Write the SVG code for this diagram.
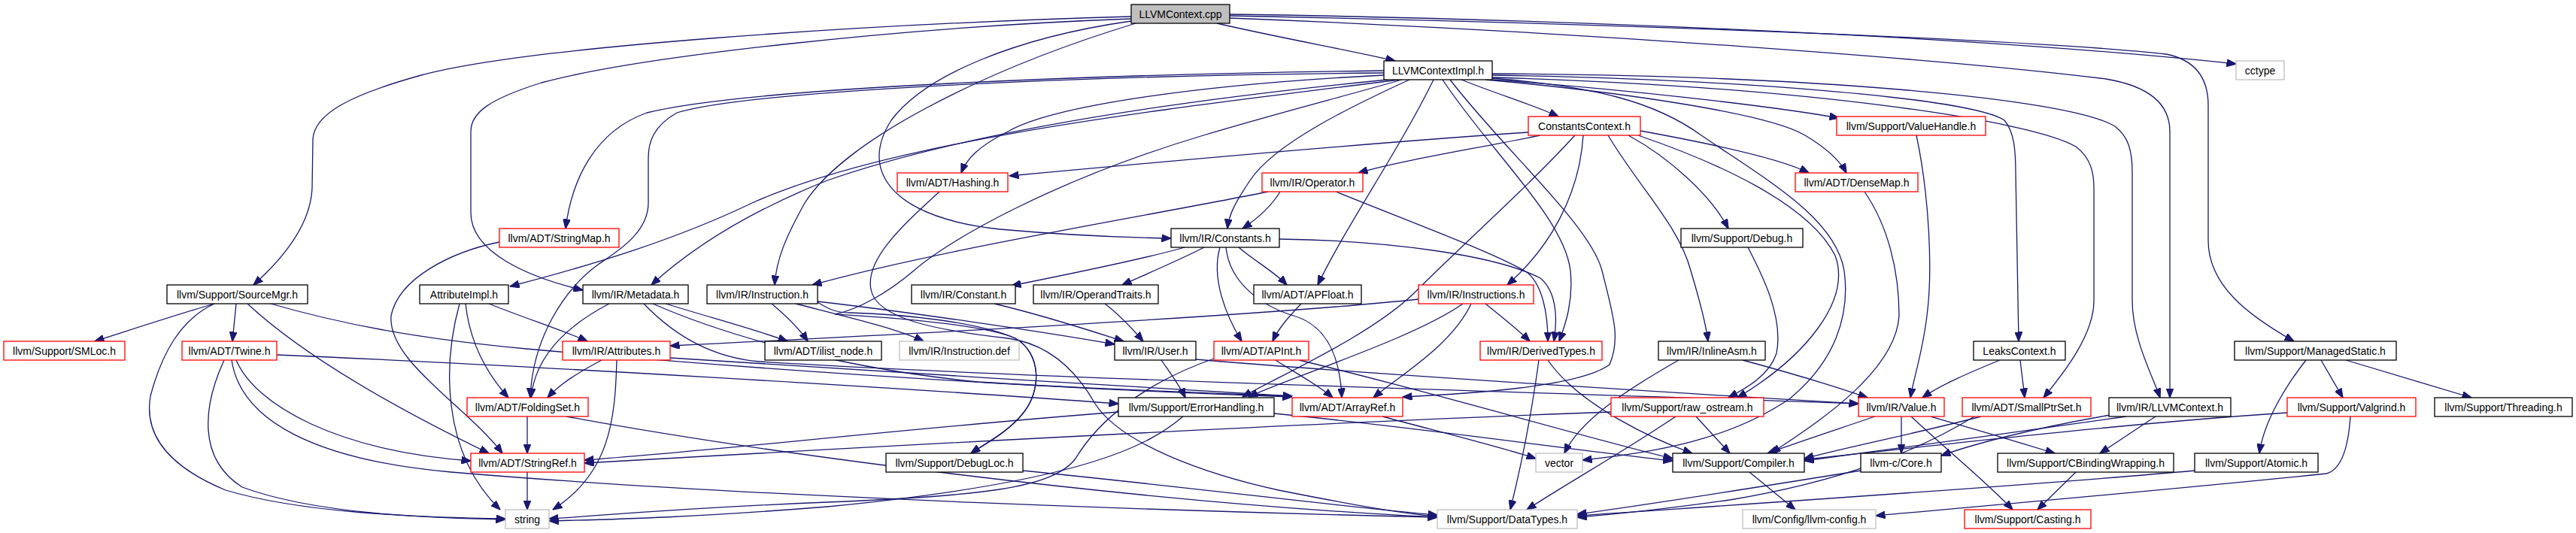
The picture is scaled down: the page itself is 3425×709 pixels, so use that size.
<svg xmlns="http://www.w3.org/2000/svg" width="3425" height="709" viewBox="0 0 3425 709">
<style>
.node rect{fill:#ffffff;stroke:#000000;stroke-width:1.3}
.node.red rect{stroke:#ff0000}
.node.gray rect{stroke:#bfbfbf}
.node.root rect{fill:#bfbfbf}
.node text{font-family:"Liberation Sans",Arial,sans-serif;font-size:14px;text-anchor:middle;fill:#000000}
#edges path{fill:none;stroke:#191970;stroke-width:1.3;marker-end:url(#arr)}
</style>
<defs>
<marker id="arr" viewBox="0 0 13 10" refX="12.5" refY="5" markerWidth="13" markerHeight="10" markerUnits="userSpaceOnUse" orient="auto">
<path d="M0,0 L13,5 L0,10 z" fill="#191970" stroke="#191970" stroke-width="1"/>
</marker>
</defs>
<rect x="0" y="0" width="3425" height="709" fill="#ffffff"/>
<g id="edges">
<path d="M1504,22 C1150,32 700,62 560,100 C470,125 418,150 416,185 L415,250 C413,300 375,345 337,379"/>
<path d="M1504,25 C1200,36 850,75 720,110 C650,132 626,150 626,175 L626,283 C626,335 700,368 775,386"/>
<path d="M1510,31 C1300,95 1120,190 1070,270 C1045,315 1032,345 1030,379"/>
<path d="M1504,28 C1350,50 1230,100 1185,160 C1140,230 1190,290 1330,305 C1430,314 1500,316 1557,317"/>
<path d="M1618,31 C1700,50 1800,68 1855,81"/>
<path d="M1635,19 C2000,24 2600,45 2973,85"/>
<path d="M1635,21 C2100,30 2700,52 2880,72 C2920,80 2936,105 2936,140 L2936,320 C2936,380 2990,420 3050,454"/>
<path d="M1635,24 C2100,42 2600,80 2800,105 C2860,115 2885,140 2885,175 L2885,529"/>
<path d="M1943,106 C1990,125 2040,140 2072,155"/>
<path d="M1984,100 C2300,105 2620,130 2665,160 C2678,175 2680,200 2680,230 L2684,454"/>
<path d="M1984,103 C2400,115 2700,160 2760,195 C2780,210 2784,230 2784,250 L2784,400 C2784,445 2745,495 2717,529"/>
<path d="M1984,98 C2400,100 2750,130 2812,168 C2830,182 2835,200 2835,230 L2835,400 C2835,450 2862,500 2872,529"/>
<path d="M1984,106 C2150,118 2350,140 2445,157"/>
<path d="M1975,106 C2150,122 2350,150 2400,180 C2430,198 2447,215 2455,230"/>
<path d="M1918,106 C1980,200 2080,290 2088,360 C2092,400 2082,430 2073,454"/>
<path d="M1928,106 C2000,200 2115,300 2130,360 C2145,420 2155,450 2140,485 C2100,515 1950,524 1865,528"/>
<path d="M1906,106 C1860,200 1790,300 1752,379"/>
<path d="M1874,106 C1800,140 1695,190 1662,240 C1642,270 1634,285 1632,304"/>
<path d="M1840,100 C1600,112 1400,140 1340,175 C1300,195 1285,212 1278,230"/>
<path d="M1840,94 C1500,98 1000,115 860,150 C790,175 760,240 752,304"/>
<path d="M1840,97 C1450,100 1000,120 900,150 C868,168 862,190 862,210 L862,270 C862,310 820,335 795,352 C750,385 708,450 705,529"/>
<path d="M1860,106 C1600,140 1200,180 1000,270 C900,318 790,352 678,381"/>
<path d="M1845,106 C1600,130 1300,170 1100,240 C1000,280 925,325 866,379"/>
<path d="M1984,104 C2120,115 2200,135 2262,180 C2350,240 2440,290 2452,360 C2460,420 2440,480 2380,530 C2300,585 2200,602 2104,612"/>
<path d="M1864,106 C1780,130 1700,150 1600,180 C1400,240 1260,320 1215,360 C1180,390 1140,412 1110,418 C1140,420 1300,428 1350,450 C1385,470 1385,520 1360,550 C1340,575 1310,590 1291,603"/>
<path d="M2032,176 C1850,188 1600,210 1342,234"/>
<path d="M2048,180 C1960,198 1860,214 1806,230"/>
<path d="M2094,180 C2030,250 1950,320 1880,390 C1820,448 1700,500 1652,528"/>
<path d="M2105,180 C2100,260 2060,330 2004,379"/>
<path d="M2138,180 C2180,250 2232,300 2248,360 C2260,400 2268,430 2271,454"/>
<path d="M2165,180 C2220,210 2275,260 2298,304"/>
<path d="M2178,180 C2280,215 2405,270 2440,340 C2462,400 2400,475 2310,529"/>
<path d="M2181,174 C2280,192 2370,212 2405,230"/>
<path d="M2548,180 C2565,260 2570,360 2562,420 C2556,470 2545,500 2540,529"/>
<path d="M1249,255 C1200,300 1150,345 1158,385 C1165,425 1250,440 1340,450 C1400,458 1435,500 1456,537 C1490,590 1600,630 1700,652 C1800,672 1870,684 1911,687"/>
<path d="M1702,255 C1690,275 1670,292 1652,304"/>
<path d="M1686,255 C1500,292 1250,332 1080,379"/>
<path d="M1776,255 C1900,305 1990,338 2030,362 C2052,380 2058,420 2058,454"/>
<path d="M1575,329 C1520,345 1420,365 1345,380"/>
<path d="M1601,329 C1570,345 1530,362 1492,379"/>
<path d="M1622,329 C1610,370 1630,420 1651,454"/>
<path d="M1630,329 C1635,378 1680,408 1720,420 C1768,434 1782,480 1784,529"/>
<path d="M1647,329 C1665,345 1695,362 1711,379"/>
<path d="M1701,318 C1850,320 1990,340 2048,370 C2072,390 2070,430 2066,454"/>
<path d="M1026,404 C1045,420 1062,436 1074,454"/>
<path d="M1058,404 C1120,420 1190,436 1228,454"/>
<path d="M1087,401 C1200,414 1380,440 1482,458"/>
<path d="M1087,402 C1100,410 1110,416 1130,416 C1200,418 1300,428 1350,450 C1385,470 1385,520 1360,550 C1340,575 1310,590 1291,603"/>
<path d="M810,404 C760,430 712,470 706,529"/>
<path d="M885,404 C950,424 1010,440 1047,454"/>
<path d="M868,404 C950,440 1100,488 1300,508 C1500,520 1650,524 1718,527"/>
<path d="M856,404 C900,450 950,476 1010,481 C1400,505 2000,520 2471,537"/>
<path d="M611,404 C590,480 585,600 665,678"/>
<path d="M619,404 C625,460 650,500 676,529"/>
<path d="M650,404 C700,424 750,440 781,454"/>
<path d="M800,479 C770,495 745,510 728,529"/>
<path d="M820,479 C818,560 810,630 735,678"/>
<path d="M891,476 C1100,490 1500,514 1718,527"/>
<path d="M701,554 L701,603"/>
<path d="M753,554 C1000,600 1500,668 1911,688"/>
<path d="M701,628 L701,678"/>
<path d="M285,404 C230,420 170,440 126,454"/>
<path d="M285,404 C240,425 215,470 200,527 C190,585 235,625 300,652 C400,682 550,688 672,690"/>
<path d="M314,404 L309,454"/>
<path d="M329,404 C400,470 520,540 650,603"/>
<path d="M360,404 C450,430 550,450 700,464 C1100,500 1500,521 1718,528"/>
<path d="M368,472 C700,486 1200,516 1487,537"/>
<path d="M298,479 C270,540 262,610 322,648 C420,684 570,689 672,691"/>
<path d="M308,479 C320,560 420,612 600,628 C1000,662 1600,681 1911,688"/>
<path d="M314,479 C340,540 450,600 626,613"/>
<path d="M664,322 C600,335 530,370 520,420 C515,480 620,540 668,603"/>
<path d="M1886,398 C1700,418 1300,440 891,460"/>
<path d="M1956,404 C1930,460 1860,500 1826,529"/>
<path d="M1945,404 C1880,450 1720,500 1660,528"/>
<path d="M1975,404 C1995,420 2020,440 2034,454"/>
<path d="M1322,404 C1390,420 1450,440 1494,454"/>
<path d="M1469,404 C1490,420 1508,440 1520,454"/>
<path d="M1544,479 C1555,495 1568,512 1576,529"/>
<path d="M1590,478 C1800,496 2200,521 2471,537"/>
<path d="M1730,404 C1715,420 1700,436 1692,454"/>
<path d="M1696,479 C1720,495 1750,510 1772,529"/>
<path d="M1727,479 C1900,520 2100,580 2224,610"/>
<path d="M1614,477 C1520,510 1460,560 1430,610 C1400,650 1300,660 1100,668 C900,676 800,686 730,690"/>
<path d="M1487,548 C1200,570 950,600 777,612"/>
<path d="M1573,554 C1530,590 1450,640 1100,674 C900,690 800,691 730,693"/>
<path d="M1694,550 C1900,570 2100,600 2224,613"/>
<path d="M1838,554 C1920,576 2000,596 2042,610"/>
<path d="M2046,479 C2035,560 2020,630 2008,678"/>
<path d="M2058,479 C2100,540 2200,585 2250,603"/>
<path d="M2317,479 C2380,496 2440,514 2483,529"/>
<path d="M2232,479 C2160,520 2100,560 2080,603"/>
<path d="M2659,479 C2620,495 2580,512 2556,529"/>
<path d="M2686,479 L2692,529"/>
<path d="M2324,329 C2340,360 2372,420 2362,470 C2352,500 2322,516 2298,529"/>
<path d="M2255,554 L2300,603"/>
<path d="M2228,554 C2160,600 2080,645 2030,678"/>
<path d="M2142,548 C1800,560 1200,592 777,616"/>
<path d="M2493,554 C2440,572 2385,590 2350,603"/>
<path d="M2528,554 L2528,603"/>
<path d="M2541,554 C2590,600 2640,640 2676,678"/>
<path d="M2567,554 C2630,572 2690,590 2732,603"/>
<path d="M2634,554 C2550,576 2450,596 2399,610"/>
<path d="M2625,554 C2550,600 2450,640 2300,665 C2200,679 2150,684 2097,688"/>
<path d="M2827,554 C2700,572 2500,600 2399,613"/>
<path d="M2806,552 C2700,570 2620,592 2581,606"/>
<path d="M2866,554 L2792,603"/>
<path d="M3041,549 C2800,565 2550,596 2399,611"/>
<path d="M3125,554 C3122,600 3112,625 3093,630 C2900,650 2650,672 2494,686"/>
<path d="M3066,479 C3040,512 3010,560 3004,603"/>
<path d="M3086,479 L3115,529"/>
<path d="M3119,479 L3286,529"/>
<path d="M2918,626 C2700,646 2300,672 2097,686"/>
<path d="M2474,626 C2350,646 2200,670 2097,684"/>
<path d="M2760,628 L2709,678"/>
<path d="M2326,628 L2387,678"/>
<path d="M1360,626 C1600,650 1800,676 1911,685"/>
<path d="M2479,255 C2510,300 2525,360 2525,420 C2520,500 2400,572 2355,603"/>
</g>
<g id="n0" class="node root"><rect x="1504" y="6" width="131" height="25"/><text x="1569.5" y="23.5">LLVMContext.cpp</text></g>
<g id="n1" class="node"><rect x="1840" y="81" width="144" height="25"/><text x="1912" y="98.5">LLVMContextImpl.h</text></g>
<g id="n2" class="node gray"><rect x="2973" y="81" width="64" height="25"/><text x="3005" y="98.5">cctype</text></g>
<g id="n3" class="node red"><rect x="2032" y="155" width="149" height="25"/><text x="2106.5" y="172.5">ConstantsContext.h</text></g>
<g id="n4" class="node red"><rect x="2442" y="155" width="198" height="25"/><text x="2541" y="172.5">llvm/Support/ValueHandle.h</text></g>
<g id="n5" class="node red"><rect x="1193" y="230" width="147" height="25"/><text x="1266.5" y="247.5">llvm/ADT/Hashing.h</text></g>
<g id="n6" class="node red"><rect x="1678" y="230" width="134" height="25"/><text x="1745" y="247.5">llvm/IR/Operator.h</text></g>
<g id="n7" class="node red"><rect x="2387" y="230" width="163" height="25"/><text x="2468.5" y="247.5">llvm/ADT/DenseMap.h</text></g>
<g id="n8" class="node red"><rect x="664" y="304" width="159" height="25"/><text x="743.5" y="321.5">llvm/ADT/StringMap.h</text></g>
<g id="n9" class="node"><rect x="1557" y="304" width="144" height="25"/><text x="1629" y="321.5">llvm/IR/Constants.h</text></g>
<g id="n10" class="node"><rect x="2235" y="304" width="162" height="25"/><text x="2316" y="321.5">llvm/Support/Debug.h</text></g>
<g id="n11" class="node"><rect x="222" y="379" width="187" height="25"/><text x="315.5" y="396.5">llvm/Support/SourceMgr.h</text></g>
<g id="n12" class="node"><rect x="558" y="379" width="118" height="25"/><text x="617" y="396.5">AttributeImpl.h</text></g>
<g id="n13" class="node"><rect x="775" y="379" width="140" height="25"/><text x="845" y="396.5">llvm/IR/Metadata.h</text></g>
<g id="n14" class="node"><rect x="940" y="379" width="147" height="25"/><text x="1013.5" y="396.5">llvm/IR/Instruction.h</text></g>
<g id="n15" class="node"><rect x="1212" y="379" width="138" height="25"/><text x="1281" y="396.5">llvm/IR/Constant.h</text></g>
<g id="n16" class="node"><rect x="1374" y="379" width="166" height="25"/><text x="1457" y="396.5">llvm/IR/OperandTraits.h</text></g>
<g id="n17" class="node"><rect x="1667" y="379" width="143" height="25"/><text x="1738.5" y="396.5">llvm/ADT/APFloat.h</text></g>
<g id="n18" class="node red"><rect x="1886" y="379" width="153" height="25"/><text x="1962.5" y="396.5">llvm/IR/Instructions.h</text></g>
<g id="n19" class="node red"><rect x="5" y="454" width="161" height="25"/><text x="85.5" y="471.5">llvm/Support/SMLoc.h</text></g>
<g id="n20" class="node red"><rect x="242" y="454" width="126" height="25"/><text x="305" y="471.5">llvm/ADT/Twine.h</text></g>
<g id="n21" class="node red"><rect x="748" y="454" width="143" height="25"/><text x="819.5" y="471.5">llvm/IR/Attributes.h</text></g>
<g id="n22" class="node"><rect x="1017" y="454" width="155" height="25"/><text x="1094.5" y="471.5">llvm/ADT/ilist_node.h</text></g>
<g id="n23" class="node gray"><rect x="1196" y="454" width="159" height="25"/><text x="1275.5" y="471.5">llvm/IR/Instruction.def</text></g>
<g id="n24" class="node"><rect x="1482" y="454" width="108" height="25"/><text x="1536" y="471.5">llvm/IR/User.h</text></g>
<g id="n25" class="node red"><rect x="1614" y="454" width="126" height="25"/><text x="1677" y="471.5">llvm/ADT/APInt.h</text></g>
<g id="n26" class="node red"><rect x="1968" y="454" width="162" height="25"/><text x="2049" y="471.5">llvm/IR/DerivedTypes.h</text></g>
<g id="n27" class="node"><rect x="2205" y="454" width="142" height="25"/><text x="2276" y="471.5">llvm/IR/InlineAsm.h</text></g>
<g id="n28" class="node"><rect x="2624" y="454" width="122" height="25"/><text x="2685" y="471.5">LeaksContext.h</text></g>
<g id="n29" class="node"><rect x="2971" y="454" width="215" height="25"/><text x="3078.5" y="471.5">llvm/Support/ManagedStatic.h</text></g>
<g id="n30" class="node red"><rect x="621" y="529" width="161" height="25"/><text x="701.5" y="546.5">llvm/ADT/FoldingSet.h</text></g>
<g id="n31" class="node"><rect x="1487" y="529" width="207" height="25"/><text x="1590.5" y="546.5">llvm/Support/ErrorHandling.h</text></g>
<g id="n32" class="node red"><rect x="1718" y="529" width="147" height="25"/><text x="1791.5" y="546.5">llvm/ADT/ArrayRef.h</text></g>
<g id="n33" class="node red"><rect x="2142" y="529" width="203" height="25"/><text x="2243.5" y="546.5">llvm/Support/raw_ostream.h</text></g>
<g id="n34" class="node red"><rect x="2471" y="529" width="114" height="25"/><text x="2528" y="546.5">llvm/IR/Value.h</text></g>
<g id="n35" class="node red"><rect x="2609" y="529" width="171" height="25"/><text x="2694.5" y="546.5">llvm/ADT/SmallPtrSet.h</text></g>
<g id="n36" class="node"><rect x="2804" y="529" width="162" height="25"/><text x="2885" y="546.5">llvm/IR/LLVMContext.h</text></g>
<g id="n37" class="node red"><rect x="3041" y="529" width="171" height="25"/><text x="3126.5" y="546.5">llvm/Support/Valgrind.h</text></g>
<g id="n38" class="node"><rect x="3237" y="529" width="183" height="25"/><text x="3328.5" y="546.5">llvm/Support/Threading.h</text></g>
<g id="n39" class="node red"><rect x="626" y="603" width="151" height="25"/><text x="701.5" y="620.5">llvm/ADT/StringRef.h</text></g>
<g id="n40" class="node"><rect x="1178" y="603" width="182" height="25"/><text x="1269" y="620.5">llvm/Support/DebugLoc.h</text></g>
<g id="n41" class="node gray"><rect x="2042" y="603" width="62" height="25"/><text x="2073" y="620.5">vector</text></g>
<g id="n42" class="node"><rect x="2224" y="603" width="175" height="25"/><text x="2311.5" y="620.5">llvm/Support/Compiler.h</text></g>
<g id="n43" class="node"><rect x="2474" y="603" width="107" height="25"/><text x="2527.5" y="620.5">llvm-c/Core.h</text></g>
<g id="n44" class="node"><rect x="2656" y="603" width="234" height="25"/><text x="2773" y="620.5">llvm/Support/CBindingWrapping.h</text></g>
<g id="n45" class="node"><rect x="2918" y="603" width="164" height="25"/><text x="3000" y="620.5">llvm/Support/Atomic.h</text></g>
<g id="n46" class="node gray"><rect x="672" y="678" width="58" height="25"/><text x="701" y="695.5">string</text></g>
<g id="n47" class="node gray"><rect x="1911" y="678" width="186" height="25"/><text x="2004" y="695.5">llvm/Support/DataTypes.h</text></g>
<g id="n48" class="node gray"><rect x="2317" y="678" width="177" height="25"/><text x="2405.5" y="695.5">llvm/Config/llvm-config.h</text></g>
<g id="n49" class="node red"><rect x="2612" y="678" width="168" height="25"/><text x="2696" y="695.5">llvm/Support/Casting.h</text></g>
</svg>
